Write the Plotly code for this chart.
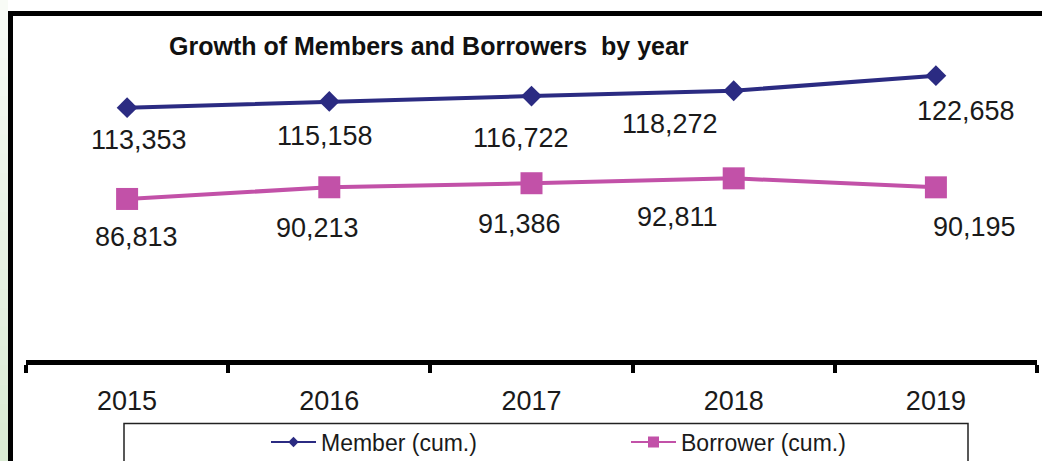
import plotly.graph_objects as go

# ---- data ----
years = ["2015", "2016", "2017", "2018", "2019"]
members = [113353, 115158, 116722, 118272, 122658]
borrowers = [86813, 90213, 91386, 92811, 90195]

member_name = "Member (cum.)"
borrower_name = "Borrower (cum.)"
title_text = "Growth of Members and Borrowers\u00a0 by year"

# value-label offsets from each marker, in pixels (right, down)
member_label_dx = [12, -4, -11, -64, 30]
member_label_dy = [32, 35, 42, 33, 35]
borrower_label_dx = [9, -12, -12, -56, 39]
borrower_label_dy = [38, 41, 41, 39, 40]

# ---- styling ----
W, H = 1042, 461
ML, MR, MT, MB = 26, 5, 16, 101
PLOT_W = W - ML - MR
PLOT_H = H - MT - MB
FONT = "Liberation Sans, Arial, sans-serif"
NAVY = "#2b2b82"
PINK = "#c251a8"
TEXT = "#1a1a1a"


def px_x(px):
    return (px - ML) / PLOT_W


def px_y(py):
    return (H - MB - py) / PLOT_H


fig = go.Figure()

fig.add_trace(go.Scatter(
    x=years, y=members, mode="lines+markers", showlegend=False,
    line=dict(color=NAVY, width=4),
    marker=dict(symbol="diamond", size=16, color=NAVY),
))
fig.add_trace(go.Scatter(
    x=years, y=borrowers, mode="lines+markers", showlegend=False,
    line=dict(color=PINK, width=4),
    marker=dict(symbol="square", size=22, color=PINK),
))

# legend entries (smaller symbols than the plotted markers)
fig.add_trace(go.Scatter(
    x=[None], y=[None], mode="lines+markers", name=member_name,
    line=dict(color=NAVY, width=2),
    marker=dict(symbol="diamond", size=8, color=NAVY),
))
fig.add_trace(go.Scatter(
    x=[None], y=[None], mode="lines+markers", name=borrower_name,
    line=dict(color=PINK, width=2),
    marker=dict(symbol="square", size=11, color=PINK),
))

annotations = []
# category positions are given by index so "2015" etc. are not read as numbers
for i, (v, dx, dy) in enumerate(zip(members, member_label_dx, member_label_dy)):
    annotations.append(dict(
        x=i, y=v, xref="x", yref="y", text=f"{v:,}", showarrow=False,
        xshift=dx, yshift=-dy, xanchor="center", yanchor="middle",
        font=dict(family=FONT, size=27, color=TEXT),
    ))
for i, (v, dx, dy) in enumerate(zip(borrowers, borrower_label_dx, borrower_label_dy)):
    annotations.append(dict(
        x=i, y=v, xref="x", yref="y", text=f"{v:,}", showarrow=False,
        xshift=dx, yshift=-dy, xanchor="center", yanchor="middle",
        font=dict(family=FONT, size=27, color=TEXT),
    ))
annotations.append(dict(
    x=px_x(167), y=px_y(46), xref="paper", yref="paper", text=f"<b>{title_text}</b>",
    showarrow=False, xanchor="left", yanchor="middle",
    font=dict(family=FONT, size=25, color="#111111"),
))

shapes = []
# light green strip along the left edge, lighter toward the top
n_bands = 24
for i in range(n_bands):
    t = i / (n_bands - 1)
    r = int(248 - t * (248 - 218))
    g = int(251 - t * (251 - 235))
    b = int(246 - t * (246 - 212))
    y0 = i * H / n_bands
    y1 = (i + 1) * H / n_bands
    shapes.append(dict(
        type="rect", xref="paper", yref="paper",
        x0=px_x(0), x1=px_x(8), y0=px_y(y1 + 0.5), y1=px_y(y0),
        line=dict(width=0), fillcolor=f"rgb({r},{g},{b})", layer="below",
    ))
# outer frame: left and top edges
shapes.append(dict(type="line", xref="paper", yref="paper",
                   x0=px_x(10.5), x1=px_x(10.5), y0=px_y(11), y1=px_y(470),
                   line=dict(color="black", width=5)))
shapes.append(dict(type="line", xref="paper", yref="paper",
                   x0=px_x(8), x1=px_x(1050), y0=px_y(13.5), y1=px_y(13.5),
                   line=dict(color="black", width=5)))
# legend box
shapes.append(dict(type="rect", xref="paper", yref="paper",
                   x0=px_x(124), x1=px_x(968), y0=px_y(480), y1=px_y(423.5),
                   line=dict(color="#222222", width=1.5), fillcolor="rgba(0,0,0,0)"))

fig.update_layout(
    width=W, height=H,
    margin=dict(l=ML, r=MR, t=MT, b=MB, pad=0, autoexpand=False),
    paper_bgcolor="white", plot_bgcolor="white",
    font=dict(family=FONT, color=TEXT),
    showlegend=True,
    legend=dict(
        orientation="h", x=px_x(266), xanchor="left", y=px_y(442), yanchor="middle",
        bgcolor="rgba(0,0,0,0)", borderwidth=0,
        font=dict(family=FONT, size=23, color=TEXT),
        itemwidth=45,
        entrywidth=300, entrywidthmode="pixels", itemclick=False, itemdoubleclick=False,
    ),
    annotations=annotations,
    shapes=shapes,
)

fig.update_xaxes(
    type="category", range=[-0.5, 4.5], tickson="boundaries",
    ticks="outside", ticklen=8, tickwidth=4, tickcolor="black",
    showline=True, linewidth=5, linecolor="black", showgrid=False, zeroline=False,
    ticklabelstandoff=13,
    tickfont=dict(family=FONT, size=27, color=TEXT), fixedrange=True,
)
fig.update_yaxes(range=[40000, 140000], visible=False, fixedrange=True)

fig.write_html("out.html", config={"displayModeBar": False})
